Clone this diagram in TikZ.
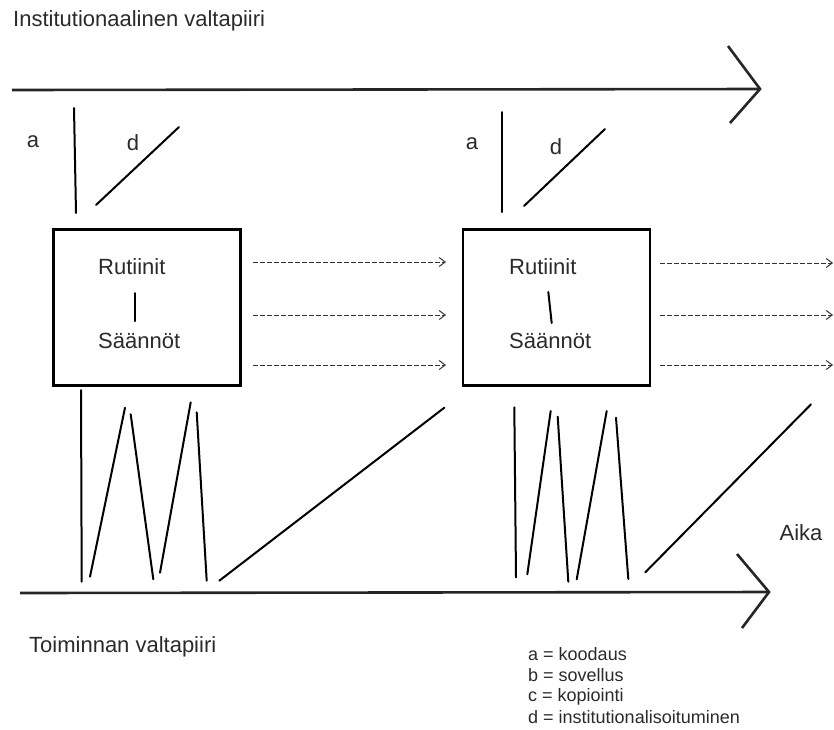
\documentclass[tikz,border=0pt]{standalone}
\usepackage{fontspec}
\setmainfont{Liberation Sans}
\usetikzlibrary{arrows.meta}
\definecolor{ink}{HTML}{2A2A2A}
\begin{document}
\begin{tikzpicture}[x=1pt,y=-1pt,
  txt/.style={font=\fontsize{22}{26}\selectfont, text=ink, inner sep=0pt},
  leg/.style={font=\fontsize{18}{21}\selectfont, text=ink, inner sep=0pt, anchor=west},
  axis/.style={line width=2.6pt, black!85, line join=miter},
  stroke/.style={line width=2pt, black, line cap=round},
  boxst/.style={draw, line width=2.5pt, minimum width=187pt, minimum height=156pt, inner sep=0pt},
  flow/.style={line width=1pt, black!80, dash pattern=on 5pt off 2pt, -{Straight Barb[length=6pt,width=9pt,line width=1pt]}}]
\useasboundingbox (0,0) rectangle (834,729);
% titles
\node[txt, anchor=west] (inst) at (13,21) {Institutionaalinen valtapiiri};
\node[txt, anchor=west] (toim) at (29,647) {Toiminnan valtapiiri};
\node[txt] (aika) at (801,533) {Aika};
% top axis
\coordinate (t0) at (12,90);
\coordinate (t1) at (760,89);
\coordinate (tu) at (728,46);
\coordinate (tl) at (730,123);
\draw[axis] (t0) -- (t1);
\draw[axis] (tu) -- (t1) -- (tl);
% bottom axis
\coordinate (b0) at (20,593);
\coordinate (b1) at (769,592);
\coordinate (bu) at (737,554);
\coordinate (bl) at (742,628);
\draw[axis] (b0) -- (b1);
\draw[axis] (bu) -- (b1) -- (bl);
% a and d labels and strokes
\node[txt] (a1) at (33,142) {a};
\node[txt] (d1) at (133,143) {d};
\node[txt] (a2) at (472,144) {a};
\node[txt] (d2) at (556,147) {d};
\draw[stroke] (74,108) -- (76,213);
\draw[stroke] (96,205) -- (179,127);
\draw[stroke] (501.7,112) -- (501.7,212);
\draw[stroke] (524,206) -- (605,129);
% boxes
\node[boxst] (box1) at (147.2,307.5) {};
\node[boxst] (box2) at (556.3,307.3) {};
\node[txt, anchor=west] (r1) at (98,267) {Rutiinit};
\node[txt, anchor=west] (s1) at (98,341) {Säännöt};
\draw[stroke] (135,293) -- (135,321);
\node[txt, anchor=west] (r2) at (509,267) {Rutiinit};
\node[txt, anchor=west] (s2) at (509,341) {Säännöt};
\draw[stroke] (548.3,292) -- (551.7,323);
% dashed flows
\foreach \yy [count=\i] in {262,315,365}{
  \coordinate (fa\i) at (253,\yy);
  \coordinate (fb\i) at (446,\yy);
  \draw[flow] (fa\i) -- (fb\i);
}
\foreach \yy [count=\i] in {263,315,365}{
  \coordinate (ga\i) at (660,\yy);
  \coordinate (gb\i) at (833,\yy);
  \draw[flow] (ga\i) -- (gb\i);
}
% lower strokes, first group
\draw[stroke] (81,390) -- (81.7,581.7);
\draw[stroke] (90,576.7) -- (125,407.7);
\draw[stroke] (130.7,414.3) -- (153.3,579.3);
\draw[stroke] (160,572.7) -- (190.7,402.3);
\draw[stroke] (196.7,412.3) -- (206.7,580.7);
\draw[stroke] (219.3,580.7) -- (444.3,407.7);
% lower strokes, second group
\draw[stroke] (514.3,407.3) -- (516,577.3);
\draw[stroke] (527.3,574.3) -- (550.7,411);
\draw[stroke] (557.7,416.7) -- (568.3,581.7);
\draw[stroke] (576.7,579.3) -- (606.7,411);
\draw[stroke] (616,417.7) -- (628.3,579);
\draw[stroke] (645.3,572.3) -- (811,404.3);
% legend
\node[leg] (la) at (528,654) {a = koodaus};
\node[leg] (lb) at (528,675) {b = sovellus};
\node[leg] (lc) at (528,696.5) {c = kopiointi};
\node[leg] (ld) at (528,717.5) {d = institutionalisoituminen};
\end{tikzpicture}
\end{document}
